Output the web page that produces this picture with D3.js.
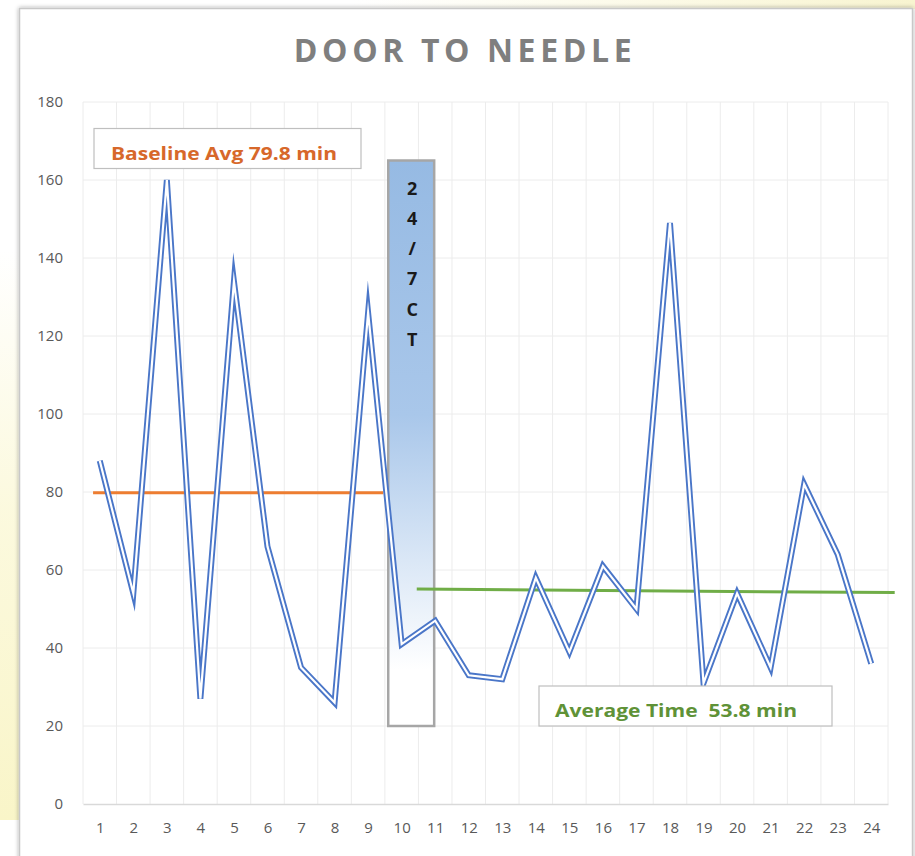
<!DOCTYPE html>
<html>
<head>
<meta charset="utf-8">
<script src="https://cdn.jsdelivr.net/npm/d3@7"></script>
<style>
  html, body { margin: 0; padding: 0; background: #ffffff; }
  svg { display: block; }
</style>
</head>
<body>
<svg id="chart" width="915" height="856"></svg>
<script>
// ---- data ----
const categories = d3.range(1, 25);
const times = [88, 54, 160, 27, 134, 66, 35, 26, 126, 41, 47, 33, 32, 58, 39, 61, 50, 149, 31, 54, 35, 82, 64, 36];
const yTicks = [0, 20, 40, 60, 80, 100, 120, 140, 160, 180];
const title = "DOOR TO NEEDLE";
const baselineAvg = 79.8;          // drawn over categories 1-9
const baselineSpan = [0.8, 9.45];
const newAvgEnds = [55.1, 54.2];   // drawn line, slightly sloped, as in picture
const newAvgSpan = [10.45, 24.7];
const ctBox = { x0: 9.6, x1: 10.97, top: 165, bottom: 20, label: ["2", "4", "/", "7", "C", "T"] };
const baselineLabel = "Baseline Avg 79.8 min";
const avgLabel = "Average Time  53.8 min";

// ---- layout ----
const svg = d3.select("#chart");
const plot = { left: 83, right: 888, top: 102, bottom: 804 };

const x = d3.scaleLinear().domain([0.5, 24.5]).range([plot.left, plot.right]);
const y = d3.scaleLinear().domain([0, 180]).range([plot.bottom, plot.top]);

const defs = svg.append("defs");
const yg = defs.append("linearGradient").attr("id", "yellowLeft").attr("x1", 0).attr("y1", 0).attr("x2", 0).attr("y2", 1);
yg.append("stop").attr("offset", "0").attr("stop-color", "#fbf8d6").attr("stop-opacity", 0);
yg.append("stop").attr("offset", "0.45").attr("stop-color", "#fbf8d6").attr("stop-opacity", 0.8);
yg.append("stop").attr("offset", "1").attr("stop-color", "#f9f5c8").attr("stop-opacity", 1);
const yt = defs.append("linearGradient").attr("id", "yellowTop").attr("x1", 0).attr("y1", 0).attr("x2", 1).attr("y2", 0);
yt.append("stop").attr("offset", "0").attr("stop-color", "#fbf8d6").attr("stop-opacity", 0);
yt.append("stop").attr("offset", "1").attr("stop-color", "#f8f4d0").attr("stop-opacity", 1);
const bg = defs.append("linearGradient").attr("id", "ctGrad").attr("x1", 0).attr("y1", 0).attr("x2", 0).attr("y2", 1);
bg.append("stop").attr("offset", "0").attr("stop-color", "#96bae3");
bg.append("stop").attr("offset", "0.45").attr("stop-color", "#a9c7ea");
bg.append("stop").attr("offset", "0.9").attr("stop-color", "#ffffff");
bg.append("stop").attr("offset", "1").attr("stop-color", "#ffffff");
const sh = defs.append("filter").attr("id", "shadow").attr("x", "-5%").attr("y", "-5%").attr("width", "110%").attr("height", "110%");
sh.append("feDropShadow").attr("dx", 0).attr("dy", 0).attr("stdDeviation", 2).attr("flood-color", "#000").attr("flood-opacity", 0.35);

// background decoration outside the chart frame
svg.append("rect").attr("x", 0).attr("y", 250).attr("width", 20).attr("height", 570).attr("fill", "url(#yellowLeft)");
svg.append("rect").attr("x", 350).attr("y", 0).attr("width", 565).attr("height", 9).attr("fill", "url(#yellowTop)");

// chart frame
svg.append("rect").attr("x", 19.5).attr("y", 8.5).attr("width", 893).attr("height", 860)
  .attr("fill", "#ffffff").attr("stroke", "#c8c8c8").attr("stroke-width", 1.5).attr("filter", "url(#shadow)");

// title
svg.append("text").attr("x", 465).attr("y", 62).attr("text-anchor", "middle")
  .attr("font-family", "'Open Sans', sans-serif").attr("font-weight", 700).attr("font-size", 32)
  .attr("letter-spacing", 4.6).attr("fill", "#7f7f7f").text(title);

// gridlines
const g = svg.append("g");
g.selectAll("line.hg").data(yTicks.filter(d => d > 0)).join("line").attr("class", "hg")
  .attr("x1", plot.left).attr("x2", plot.right).attr("y1", d => y(d)).attr("y2", d => y(d))
  .attr("stroke", "#ececec").attr("stroke-width", 1);
g.selectAll("line.vg").data(d3.range(0, 25)).join("line").attr("class", "vg")
  .attr("x1", d => x(d + 0.5)).attr("x2", d => x(d + 0.5)).attr("y1", plot.top).attr("y2", plot.bottom)
  .attr("stroke", "#ececec").attr("stroke-width", 1);

// axes
const yAxis = d3.axisLeft(y).tickValues(yTicks).tickSize(0).tickPadding(20);
const ya = svg.append("g").attr("transform", `translate(${plot.left},0)`).call(yAxis);
ya.select(".domain").remove();
ya.selectAll("text").attr("font-family", "'Open Sans', sans-serif").attr("font-size", 15).attr("fill", "#595959");

const xAxis = d3.axisBottom(x).tickValues(categories).tickSize(0).tickPadding(18).tickFormat(d3.format("d"));
const xa = svg.append("g").attr("transform", `translate(0,${plot.bottom})`).call(xAxis);
xa.select(".domain").attr("stroke", "#d9d9d9").attr("stroke-width", 1.5);
xa.selectAll("text").attr("font-family", "'Open Sans', sans-serif").attr("font-size", 15).attr("fill", "#595959");

// 24/7 CT box (behind the line)
const bx0 = x(ctBox.x0), bx1 = x(ctBox.x1), by0 = y(ctBox.top), by1 = y(ctBox.bottom);
svg.append("rect").attr("x", bx0).attr("y", by0).attr("width", bx1 - bx0).attr("height", by1 - by0)
  .attr("fill", "url(#ctGrad)").attr("stroke", "#a6a6a6").attr("stroke-width", 2.5);
svg.append("g").selectAll("text").data(ctBox.label).join("text")
  .attr("x", (bx0 + bx1) / 2 + 1).attr("y", (d, i) => by0 + 34 + i * 30.3)
  .attr("text-anchor", "middle").attr("font-family", "'Open Sans', sans-serif")
  .attr("font-weight", 700).attr("font-size", 18).attr("fill", "#1a1a1a").text(d => d);

// average lines
svg.append("line").attr("x1", x(baselineSpan[0])).attr("x2", x(baselineSpan[1]))
  .attr("y1", y(baselineAvg)).attr("y2", y(baselineAvg))
  .attr("stroke", "#ed7d31").attr("stroke-width", 3);
svg.append("line").attr("x1", x(newAvgSpan[0])).attr("x2", x(newAvgSpan[1]))
  .attr("y1", y(newAvgEnds[0])).attr("y2", y(newAvgEnds[1]))
  .attr("stroke", "#70ad47").attr("stroke-width", 3);

// double (compound) line
const line = d3.line().x((d, i) => x(categories[i])).y(d => y(d));
svg.append("path").datum(times).attr("d", line).attr("fill", "none")
  .attr("stroke", "#4a76c8").attr("stroke-width", 6).attr("stroke-linejoin", "miter").attr("stroke-miterlimit", 12);
svg.append("path").datum(times).attr("d", line).attr("fill", "none")
  .attr("stroke", "#ffffff").attr("stroke-width", 2.2).attr("stroke-linejoin", "miter").attr("stroke-miterlimit", 12);

// labels
svg.append("rect").attr("x", 94).attr("y", 128.5).attr("width", 267).attr("height", 40)
  .attr("fill", "#ffffff").attr("stroke", "#bfbfbf").attr("stroke-width", 1.2);
svg.append("text").attr("x", 111).attr("y", 159.5)
  .attr("font-family", "'Open Sans', sans-serif").attr("font-weight", 700).attr("font-size", 18)
  .attr("fill", "#d7682a").attr("textLength", 226).attr("lengthAdjust", "spacingAndGlyphs").text(baselineLabel);

svg.append("rect").attr("x", 539).attr("y", 686).attr("width", 293).attr("height", 40)
  .attr("fill", "#ffffff").attr("stroke", "#bfbfbf").attr("stroke-width", 1.2);
svg.append("text").attr("x", 555).attr("y", 717)
  .attr("font-family", "'Open Sans', sans-serif").attr("font-weight", 700).attr("font-size", 18)
  .attr("fill", "#5f9237").attr("textLength", 242).attr("lengthAdjust", "spacingAndGlyphs")
  .attr("xml:space", "preserve").style("white-space", "pre").text(avgLabel);
</script>
</body>
</html>
